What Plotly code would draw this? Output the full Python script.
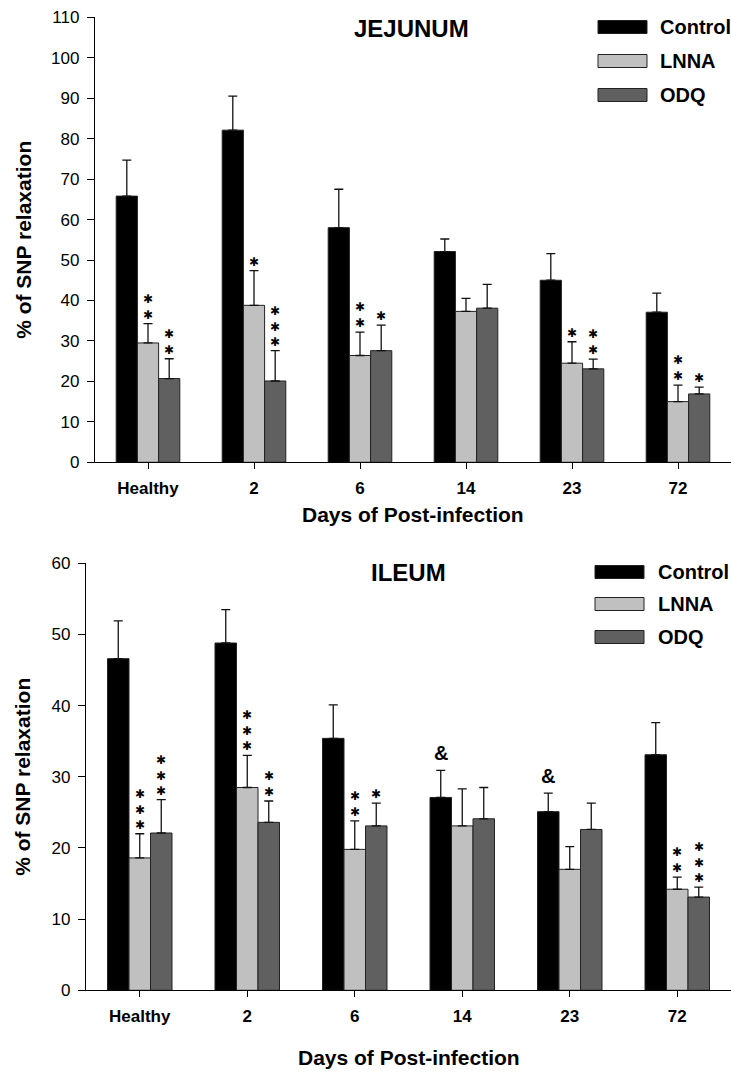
import plotly.graph_objects as go

# ---- data -------------------------------------------------------------
days = ["Healthy", "2", "6", "14", "23", "72"]
series_names = ["Control", "LNNA", "ODQ"]

# Jejunum (% of SNP relaxation, mean and SEM)
jej_control = [65.8, 82.1, 58.0, 52.1, 45.0, 37.1]
jej_control_err = [8.9, 8.4, 9.5, 3.1, 6.6, 4.7]
jej_lnna = [29.5, 38.8, 26.4, 37.3, 24.5, 15.0]
jej_lnna_err = [4.8, 8.6, 5.8, 3.2, 5.3, 4.1]
jej_odq = [20.7, 20.1, 27.6, 38.1, 23.1, 16.9]
jej_odq_err = [4.9, 7.5, 6.3, 5.9, 2.4, 1.7]
jej_control_sig = ["", "", "", "", "", ""]
jej_lnna_sig = ["**", "*", "**", "", "*", "**"]
jej_odq_sig = ["**", "***", "*", "", "**", "*"]

# Ileum
ile_control = [46.6, 48.8, 35.4, 27.1, 25.1, 33.1]
ile_control_err = [5.3, 4.7, 4.7, 3.8, 2.6, 4.5]
ile_lnna = [18.6, 28.5, 19.8, 23.1, 17.0, 14.2]
ile_lnna_err = [3.4, 4.5, 4.0, 5.2, 3.2, 1.7]
ile_odq = [22.1, 23.6, 23.1, 24.1, 22.6, 13.1]
ile_odq_err = [4.7, 3.0, 3.2, 4.4, 3.7, 1.4]
ile_control_sig = ["", "", "", "&", "&", ""]
ile_lnna_sig = ["***", "***", "**", "", "", "**"]
ile_odq_sig = ["***", "**", "*", "", "", "***"]

jej_ticks = list(range(0, 111, 10))
ile_ticks = list(range(0, 61, 10))

# ---- styling ----------------------------------------------------------
W, H = 731, 1081
FONT = "Liberation Sans, Arial, sans-serif"
colors = {"Control": "#000000", "LNNA": "#c0c0c0", "ODQ": "#606060"}
offsets = {"Control": -0.2, "LNNA": 0.0, "ODQ": 0.2}


def px(x):
    return x / W


def py(y):
    return 1 - y / H


def star_stack(n):
    # one text block per stack, one heavy asterisk per row
    return "<br>".join(["\u2731"] * n)


fig = go.Figure()
annotations = []
shapes = []

panels = [
    dict(xa="x", ya="y", title="JEJUNUM",
         vals=[jej_control, jej_lnna, jej_odq],
         errs=[jej_control_err, jej_lnna_err, jej_odq_err],
         sigs=[jej_control_sig, jej_lnna_sig, jej_odq_sig],
         ticks=jej_ticks,
         xdom=[px(95), 1.0], ydom=[py(462.3), py(17.3)],
         title_pos=(411, 28), legend_rows=[27, 61, 95], legend_x=(598, 647, 658),
         ytitle_x=24, xtitle_y=514),
    dict(xa="x2", ya="y2", title="ILEUM",
         vals=[ile_control, ile_lnna, ile_odq],
         errs=[ile_control_err, ile_lnna_err, ile_odq_err],
         sigs=[ile_control_sig, ile_lnna_sig, ile_odq_sig],
         ticks=ile_ticks,
         xdom=[px(86), 1.0], ydom=[py(990.3), py(563.3)],
         title_pos=(408, 572), legend_rows=[572, 604, 637], legend_x=(595, 644, 656),
         ytitle_x=23, xtitle_y=1057),
]

for p in panels:
    for name, v, e, s in zip(series_names, p["vals"], p["errs"], p["sigs"]):
        fig.add_trace(go.Bar(
            x=days, y=v, name=name, xaxis=p["xa"], yaxis=p["ya"],
            marker=dict(color=colors[name], line=dict(color="#222222", width=1)),
            error_y=dict(type="data", array=e, arrayminus=[0] * len(e),
                         symmetric=False, color="#111111", thickness=1.3, width=4.5),
            showlegend=False,
        ))
        # significance marks above each error bar
        for i, mark in enumerate(s):
            if not mark:
                continue
            top = v[i] + e[i]
            if mark == "&":
                annotations.append(dict(
                    x=i + offsets[name], y=top, xref=p["xa"], yref=p["ya"],
                    text="&", showarrow=False, yanchor="middle", yshift=17,
                    font=dict(family=FONT, size=20, color="black", weight="bold")))
            else:
                annotations.append(dict(
                    x=i + offsets[name], y=top, xref=p["xa"], yref=p["ya"],
                    text=star_stack(len(mark)), showarrow=False,
                    yanchor="bottom", yshift=1, borderpad=0,
                    font=dict(family="DejaVu Sans", size=12, color="black")))

    # panel title
    tx, ty = p["title_pos"]
    annotations.append(dict(x=px(tx), y=py(ty), xref="paper", yref="paper",
                            text=p["title"], showarrow=False,
                            xanchor="center", yanchor="middle",
                            font=dict(family=FONT, size=24, color="black", weight="bold")))
    # legend
    x0, x1, xt = p["legend_x"]
    for name, ry in zip(series_names, p["legend_rows"]):
        shapes.append(dict(type="rect", xref="paper", yref="paper",
                           x0=px(x0), x1=px(x1), y0=py(ry + 6.5), y1=py(ry - 6.5),
                           fillcolor=colors[name], line=dict(color="#222222", width=1)))
        annotations.append(dict(x=px(xt), y=py(ry), xref="paper", yref="paper",
                                text=name, showarrow=False, xanchor="left", yanchor="middle",
                                font=dict(family=FONT, size=20, color="black", weight="bold")))
    # axis titles
    ymid = (p["ydom"][0] + p["ydom"][1]) / 2
    annotations.append(dict(x=px(p["ytitle_x"]), y=ymid, xref="paper", yref="paper",
                            text="% of SNP relaxation", textangle=-90, showarrow=False,
                            xanchor="center", yanchor="middle",
                            font=dict(family=FONT, size=21, color="black", weight="bold")))
    xmid = (p["xdom"][0] + p["xdom"][1]) / 2
    annotations.append(dict(x=xmid, y=py(p["xtitle_y"]), xref="paper", yref="paper",
                            text="Days of Post-infection", showarrow=False,
                            xanchor="center", yanchor="middle",
                            font=dict(family=FONT, size=21, color="black", weight="bold")))

axis_common = dict(showline=True, linecolor="black", linewidth=1.3, showgrid=False,
                   zeroline=False, ticks="outside", tickcolor="black", tickwidth=1.2,
                   ticklabelstandoff=4)
xaxis_common = dict(type="category", categoryorder="array", categoryarray=days,
                    range=[-0.5, 5.5], ticklen=6,
                    tickfont=dict(family=FONT, size=17, color="black", weight="bold"),
                    **axis_common)
ytickfont = dict(family=FONT, size=17, color="black")

fig.update_layout(
    width=W, height=H, template="none",
    margin=dict(l=0, r=0, t=0, b=0),
    paper_bgcolor="white", plot_bgcolor="white",
    barmode="group", bargap=0.4, bargroupgap=0,
    showlegend=False,
    xaxis=dict(domain=panels[0]["xdom"], anchor="y", **xaxis_common),
    yaxis=dict(domain=panels[0]["ydom"], anchor="x", range=[0, 110],
               tickvals=jej_ticks, ticklen=7, tickfont=ytickfont, **axis_common),
    xaxis2=dict(domain=panels[1]["xdom"], anchor="y2", **xaxis_common),
    yaxis2=dict(domain=panels[1]["ydom"], anchor="x2", range=[0, 60],
                tickvals=ile_ticks, ticklen=7, tickfont=ytickfont, **axis_common),
    annotations=annotations,
    shapes=shapes,
)

fig.write_html("out.html")
